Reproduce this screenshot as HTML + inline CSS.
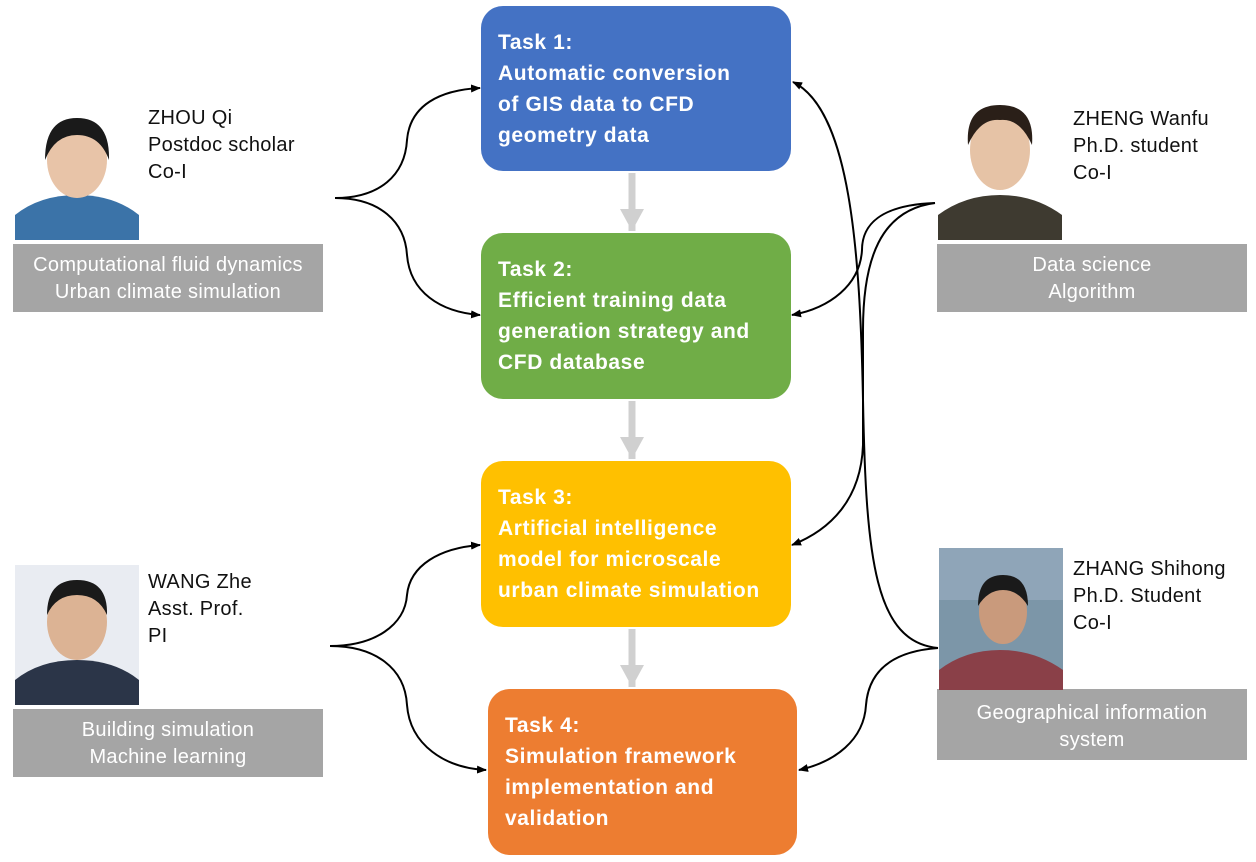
<!DOCTYPE html>
<html><head><meta charset="utf-8"><style>
body{margin:0;width:1256px;height:862px;background:#fff;position:relative;overflow:hidden;font-family:"Liberation Sans",sans-serif}
.t{position:absolute;border-radius:22px;color:#fff;font-weight:bold;font-size:21px;letter-spacing:0.6px;line-height:31px;padding:21px 0 0 17px;box-sizing:border-box;white-space:nowrap}
.g{position:absolute;background:#a5a5a5;color:#fff;font-size:20px;letter-spacing:0.3px;line-height:27px;text-align:center;box-sizing:border-box;padding-top:8px;white-space:nowrap}
.n{position:absolute;font-size:20px;letter-spacing:0.3px;line-height:27px;color:#111;white-space:nowrap}
</style></head><body>
<div class="t" style="left:481px;top:6px;width:310px;height:165px;background:#4472c4">Task 1:<br>Automatic conversion<br>of GIS data to CFD<br>geometry data</div>
<div class="t" style="left:481px;top:233px;width:310px;height:166px;background:#70ad47">Task 2:<br>Efficient training data<br>generation strategy and<br>CFD database</div>
<div class="t" style="left:481px;top:461px;width:310px;height:166px;background:#ffc000">Task 3:<br>Artificial intelligence<br>model for microscale<br>urban climate simulation</div>
<div class="t" style="left:488px;top:689px;width:309px;height:166px;background:#ed7d31">Task 4:<br>Simulation framework<br>implementation and<br>validation</div>

<div class="g" style="left:13px;top:244px;width:310px;height:68px">Computational fluid dynamics<br>Urban climate simulation</div>
<div class="g" style="left:13px;top:709px;width:310px;height:68px">Building simulation<br>Machine learning</div>
<div class="g" style="left:937px;top:244px;width:310px;height:68px">Data science<br>Algorithm</div>
<div class="g" style="left:937px;top:689px;width:310px;height:71px;padding-top:11px">Geographical information<br>system</div>

<div class="n" style="left:148px;top:105px">ZHOU Qi<br>Postdoc scholar<br>Co-I</div>
<div class="n" style="left:148px;top:569px">WANG Zhe<br>Asst. Prof.<br>PI</div>
<div class="n" style="left:1073px;top:106px">ZHENG Wanfu<br>Ph.D. student<br>Co-I</div>
<div class="n" style="left:1073px;top:556px">ZHANG Shihong<br>Ph.D. Student<br>Co-I</div>

<svg width="1256" height="862" style="position:absolute;left:0;top:0">
<defs><marker id="a" markerWidth="10" markerHeight="8" refX="9" refY="4" orient="auto" markerUnits="userSpaceOnUse"><path d="M0,0L10,4L0,8z" fill="#000"/></marker>
<marker id="b" markerWidth="24" markerHeight="24" refX="22" refY="12" orient="auto" markerUnits="userSpaceOnUse"><path d="M0,0L22,12L0,24z" fill="#d0d0d0"/></marker></defs>
<g><rect x="15" y="120" width="124" height="120" fill="#fff"/><path d="M15,240 L15,215 Q40,195 77,195 Q114,195 139,215 L139,240z" fill="#3b73a8"/><ellipse cx="77" cy="160" rx="30" ry="38" fill="#e8c4a8"/><path d="M45,160 Q45,118 77,118 Q110,118 109,160 Q100,135 77,135 Q55,135 45,160z" fill="#1a1a1a"/></g>
<g><rect x="15" y="565" width="124" height="140" fill="#e9ecf2"/><path d="M15,705 L15,680 Q40,660 77,660 Q114,660 139,680 L139,705z" fill="#2b3548"/><ellipse cx="77" cy="622" rx="30" ry="38" fill="#dcb394"/><path d="M47,615 Q47,580 77,580 Q108,580 107,615 Q98,595 77,595 Q56,595 47,615z" fill="#1a1a1a"/></g>
<g><rect x="938" y="100" width="124" height="140" fill="#fff"/><path d="M938,240 L938,215 Q965,195 1000,195 Q1035,195 1062,215 L1062,240z" fill="#3e3a30"/><ellipse cx="1000" cy="150" rx="30" ry="40" fill="#e6c3a6"/><path d="M968,145 Q965,105 1000,105 Q1035,105 1032,145 Q1020,118 1000,120 Q980,118 968,145z" fill="#2a1f18"/></g>
<g><rect x="939" y="548" width="124" height="142" fill="#8fa5b8"/><rect x="939" y="600" width="124" height="90" fill="#7c96a8"/><path d="M939,690 L939,670 Q965,650 1000,650 Q1035,650 1063,670 L1063,690z" fill="#8a4048"/><ellipse cx="1003" cy="612" rx="24" ry="32" fill="#c99a7c"/><path d="M978,606 Q978,575 1003,575 Q1028,575 1028,606 Q1018,590 1003,590 Q988,590 978,606z" fill="#1a1a1a"/></g>
<g stroke="#d0d0d0" stroke-width="7" fill="none">
<line x1="632" y1="173" x2="632" y2="231" marker-end="url(#b)"/>
<line x1="632" y1="401" x2="632" y2="459" marker-end="url(#b)"/>
<line x1="632" y1="629" x2="632" y2="687" marker-end="url(#b)"/>
</g>
<g stroke="#000" stroke-width="2" fill="none" marker-end="url(#a)">
<path d="M335,198 C380,198 405,175 407,140 C410,105 440,90 480,88"/>
<path d="M335,198 C380,198 405,222 407,255 C410,292 440,312 480,315"/>
<path d="M330,646 C375,646 405,625 407,595 C410,565 440,548 480,545"/>
<path d="M330,646 C375,646 405,668 407,705 C410,745 445,768 486,770"/>
<path d="M935,203 C880,205 862,225 862,250 C860,285 830,308 792,315"/>
<path d="M935,203 C880,210 863,260 863,330 L863,445 C861,500 830,530 792,545"/>
<path d="M938,648 C875,642 866,560 863,400 C860,250 850,110 793,82"/>
<path d="M938,648 C882,652 868,680 866,705 C864,740 835,762 799,770"/>
</g>
</svg>
</body></html>
